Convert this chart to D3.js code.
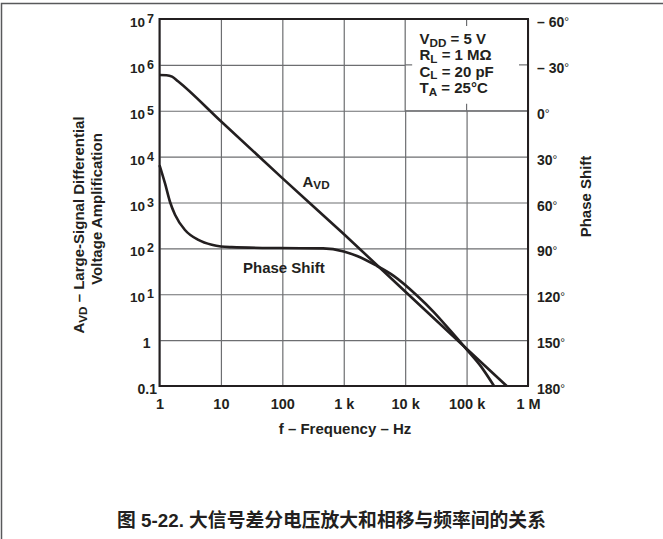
<!DOCTYPE html>
<html>
<head>
<meta charset="utf-8">
<script src="https://cdn.jsdelivr.net/npm/d3@7"></script>
<style>
  body { margin: 0; background: #fff; }
  text { font-family: "Liberation Sans", Arial, "Noto Sans CJK SC", sans-serif; fill: #231f20; }
</style>
</head>
<body>
<svg id="chart" width="663" height="539"></svg>
<script>
// ticks
const freqTicks = [1, 10, 100, 1e3, 1e4, 1e5, 1e6];
const freqLabels = ["1", "10", "100", "1 k", "10 k", "100 k", "1 M"];
const gainTicks = [0.1, 1, 10, 100, 1e3, 1e4, 1e5, 1e6, 1e7];
const phaseTicks = [-60, -30, 0, 30, 60, 90, 120, 150, 180];
const phaseLabels = ["– 60", "– 30", "0", "30", "60", "90", "120", "150", "180"];

// A_VD curve
const avdFreq = [1, 1.3, 1.6, 2, 10, 100, 1e3, 1e4, 1e5, 4.5e5];
const avdGain = [6.0e5, 5.95e5, 5.55e5, 4.4e5, 5.9e4, 3.4e3, 205, 11.5, 0.65, 0.1];

// phase shift curve (degrees)
const phaseFreq = [1, 1.23, 1.48, 1.79, 2.6, 4.3, 7.1, 10, 15, 90, 460, 1000, 1650, 3300, 6500, 15700, 29000, 55000, 1e5, 1.7e5, 2.8e5];
const phaseDeg = [35.5, 47.5, 59.5, 68, 78, 84.5, 87.7, 88.8, 89.2, 89.8, 90, 92, 95, 101, 108, 121, 131.5, 144, 156, 167, 180];

const width = 663, height = 539;
const margin = {top: 19, right: 135, bottom: 153, left: 159.5};
const w = width - margin.left - margin.right,
    h = height - margin.top - margin.bottom;

const gridColor = "#6d6e71";

const x = d3.scaleLog().domain([1, 1e6]).range([0, w]);
const y = d3.scaleLog().domain([0.1, 1e7]).range([h, 0]);
const yPhase = d3.scaleLinear().domain([180, -60]).range([h, 0]);

const svg = d3.select("#chart");

// page frame
svg.append("path")
    .attr("d", "M1.5,539V3.5H663")
    .attr("fill", "none")
    .attr("stroke", "#58595b")
    .attr("stroke-width", 1.5);

const g = svg.append("g")
    .attr("transform", "translate(" + margin.left + "," + margin.top + ")");

// vertical grid + frequency labels
const xAxis = g.append("g")
    .attr("transform", "translate(0," + h + ")")
    .call(d3.axisBottom(x).tickValues(freqTicks).tickSize(-h).tickPadding(13)
        .tickFormat(function (d, i) { return freqLabels[i]; }));
xAxis.select(".domain").remove();
xAxis.selectAll("line").attr("stroke", gridColor).attr("stroke-width", 1.2);
xAxis.selectAll("text")
    .attr("font-size", 14.5).attr("font-weight", "bold")
    .attr("font-family", null).attr("fill", "#231f20");

// horizontal grid + gain labels
const yAxis = g.append("g")
    .call(d3.axisLeft(y).tickValues(gainTicks).tickSize(-w).tickFormat(""));
yAxis.select(".domain").remove();
yAxis.selectAll("line").attr("stroke", gridColor).attr("stroke-width", 1.2);
yAxis.selectAll(".tick text").remove();
yAxis.selectAll(".tick").each(function (d) {
    const t = d3.select(this).append("text")
        .attr("text-anchor", "end")
        .attr("y", 7.5)
        .attr("font-weight", "bold")
        .attr("fill", "#231f20");
    if (d < 10) {
        t.attr("x", d < 1 ? -2.5 : -9).attr("font-size", 14).text(d < 1 ? "0.1" : "1");
    } else {
        t.attr("x", -5.5);
        t.append("tspan").attr("font-size", 13.5).text("10");
        t.append("tspan").attr("font-size", 12.5).attr("dx", 2).attr("dy", -4)
            .text(Math.round(Math.log10(d)));
    }
});

// phase labels on the right
const pAxis = g.append("g")
    .attr("transform", "translate(" + w + ",0)")
    .call(d3.axisRight(yPhase).tickValues(phaseTicks).tickSize(0).tickFormat(""));
pAxis.select(".domain").remove();
pAxis.selectAll(".tick text").remove();
pAxis.selectAll(".tick").each(function (d, i) {
    const t = d3.select(this).append("text")
        .attr("x", 9).attr("y", 7.5)
        .attr("font-size", 14).attr("font-weight", "bold")
        .attr("fill", "#231f20");
    t.append("tspan").text(phaseLabels[i]);
    t.append("tspan").attr("font-weight", "normal").attr("font-size", 12).attr("dy", -1).text("°");
});

// condition box covers the grid in the top right corner
const bx = x(1e4), by = y(1e5);
g.append("rect")
    .attr("x", bx).attr("y", 0)
    .attr("width", w - bx).attr("height", by)
    .attr("fill", "#fff")
    .attr("stroke", gridColor).attr("stroke-width", 1.2);
const stubs = [
    [x(1e5), 0, x(1e5), 7],
    [x(1e5), by - 7, x(1e5), by],
    [bx, y(1e6), bx + 7, y(1e6)],
    [w - 9, y(1e6), w, y(1e6)]
];
g.selectAll(".stub").data(stubs).enter().append("line")
    .attr("x1", function (d) { return d[0]; })
    .attr("y1", function (d) { return d[1]; })
    .attr("x2", function (d) { return d[2]; })
    .attr("y2", function (d) { return d[3]; })
    .attr("stroke", gridColor).attr("stroke-width", 1.2);

// curves
const avdLine = d3.line()
    .x(function (d) { return x(d[0]); })
    .y(function (d) { return y(d[1]); })
    .curve(d3.curveMonotoneX);
const phaseLine = d3.line()
    .x(function (d) { return x(d[0]); })
    .y(function (d) { return yPhase(d[1]); })
    .curve(d3.curveMonotoneX);

g.append("path")
    .datum(d3.zip(avdFreq, avdGain))
    .attr("d", avdLine)
    .attr("fill", "none").attr("stroke", "#231f20").attr("stroke-width", 2.6);
g.append("path")
    .datum(d3.zip(phaseFreq, phaseDeg))
    .attr("d", phaseLine)
    .attr("fill", "none").attr("stroke", "#231f20").attr("stroke-width", 2.6);

// plot border
g.append("rect")
    .attr("width", w).attr("height", h)
    .attr("fill", "none").attr("stroke", "#231f20").attr("stroke-width", 2);

// helper for text with a subscript
function subText(sel, main, sub, rest, size) {
    sel.append("tspan").text(main);
    sel.append("tspan").attr("font-size", size * 0.78).attr("dy", 2.5).text(sub);
    sel.append("tspan").attr("dy", -2.5).text(rest);
}

// conditions
const cond = [["V", "DD", " = 5 V"], ["R", "L", " = 1 MΩ"], ["C", "L", " = 20 pF"], ["T", "A", " = 25°C"]];
cond.forEach(function (c, i) {
    const t = svg.append("text")
        .attr("x", 419.5).attr("y", 44 + i * 16.4)
        .attr("font-size", 15).attr("font-weight", "bold");
    subText(t, c[0], c[1], c[2], 15);
});

// curve labels
const avdLabel = svg.append("text")
    .attr("x", 302.5).attr("y", 186.5)
    .attr("font-size", 15).attr("font-weight", "bold");
subText(avdLabel, "A", "VD", "", 15);
svg.append("text")
    .attr("x", 243).attr("y", 273)
    .attr("font-size", 15).attr("font-weight", "bold")
    .text("Phase Shift");

// axis titles
const lt1 = svg.append("text")
    .attr("transform", "translate(84,225) rotate(-90)")
    .attr("text-anchor", "middle")
    .attr("font-size", 15).attr("font-weight", "bold");
subText(lt1, "A", "VD", " – Large-Signal Differential", 15);
svg.append("text")
    .attr("transform", "translate(102,209) rotate(-90)")
    .attr("text-anchor", "middle")
    .attr("font-size", 15).attr("font-weight", "bold")
    .text("Voltage Amplification");
svg.append("text")
    .attr("transform", "translate(591,196.5) rotate(-90)")
    .attr("text-anchor", "middle")
    .attr("font-size", 15).attr("font-weight", "bold")
    .text("Phase Shift");
svg.append("text")
    .attr("x", 345).attr("y", 434)
    .attr("text-anchor", "middle")
    .attr("font-size", 15).attr("font-weight", "bold")
    .text("f – Frequency – Hz");

// caption
svg.append("text")
    .attr("x", 331.5).attr("y", 527)
    .attr("text-anchor", "middle")
    .attr("font-size", 18.8).attr("font-weight", "bold")
    .text("图 5-22. 大信号差分电压放大和相移与频率间的关系");
</script>
</body>
</html>
